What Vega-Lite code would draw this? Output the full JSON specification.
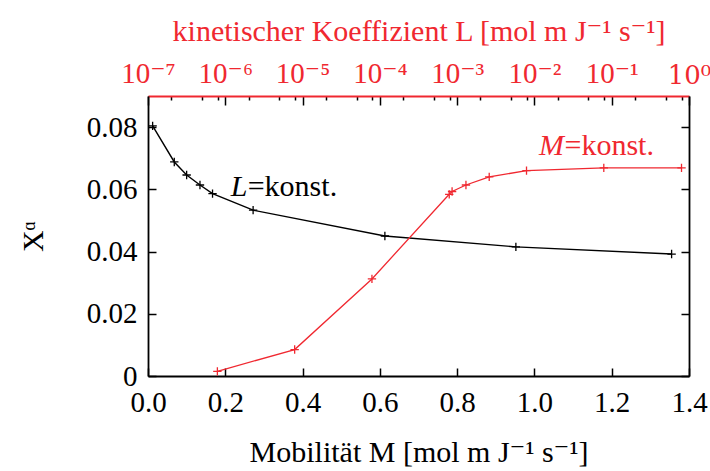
{
  "$schema": "https://vega.github.io/schema/vega-lite/v6.json",
  "width": 541,
  "height": 280,
  "autosize": {"type": "none"},
  "padding": {"left": 148, "top": 96, "right": 21, "bottom": 95},
  "background": "white",
  "config": {
    "view": {"stroke": null},
    "font": "'Liberation Serif', 'DejaVu Serif', serif",
    "axis": {
      "labelFont": "'Liberation Serif', 'DejaVu Serif', serif",
      "titleFont": "'Liberation Serif', 'DejaVu Serif', serif",
      "labelFontSize": 29,
      "titleFontSize": 30,
      "titleFontWeight": "normal",
      "labelColor": "black",
      "titleColor": "black",
      "domainColor": "black",
      "domainWidth": 1.8,
      "tickColor": "black",
      "tickWidth": 1.5,
      "grid": false
    }
  },
  "datasets": {
    "mobil": [
      {"M": 0.012, "X": 0.0804},
      {"M": 0.068, "X": 0.0688},
      {"M": 0.100, "X": 0.0646},
      {"M": 0.1345, "X": 0.0614},
      {"M": 0.167, "X": 0.0586},
      {"M": 0.272, "X": 0.0533},
      {"M": 0.613, "X": 0.0450},
      {"M": 0.952, "X": 0.0415},
      {"M": 1.355, "X": 0.0392}
    ],
    "kinet": [
      {"L": 7.9e-7, "X": 0.0015},
      {"L": 7.9e-6, "X": 0.0085},
      {"L": 7.9e-5, "X": 0.0312},
      {"L": 7.9e-4, "X": 0.0584},
      {"L": 8.6e-4, "X": 0.0593},
      {"L": 1.3e-3, "X": 0.0614},
      {"L": 2.6e-3, "X": 0.0640},
      {"L": 7.9e-3, "X": 0.0660},
      {"L": 7.9e-2, "X": 0.0669},
      {"L": 0.8, "X": 0.0669}
    ]
  },
  "layer": [
    {
      "data": {"name": "mobil"},
      "encoding": {
        "x": {
          "field": "M",
          "type": "quantitative",
          "scale": {"domain": [0, 1.4], "nice": false, "zero": false},
          "axis": {
            "orient": "bottom",
            "title": "Mobilität M [mol m J⁻¹ s⁻¹]",
            "values": [0, 0.2, 0.4, 0.6, 0.8, 1.0, 1.2, 1.4],
            "format": ".1f",
            "tickSize": -8,
            "labelPadding": 20,
            "titlePadding": 20,
            "labelFlush": false,
            "labelOverlap": false
          }
        },
        "y": {
          "field": "X",
          "type": "quantitative",
          "scale": {"domain": [0, 0.09], "nice": false, "zero": false},
          "axis": {
            "orient": "left",
            "title": "Xᵅ",
            "values": [0, 0.02, 0.04, 0.06, 0.08],
            "labelExpr": "datum.value == 0 ? '0' : format(datum.value, '.2f')",
            "tickSize": -8,
            "labelPadding": 19,
            "titlePadding": 38,
            "titleAngle": -90,
            "labelFlush": false,
            "labelOverlap": false
          }
        }
      },
      "layer": [
        {"mark": {"type": "line", "color": "black", "strokeWidth": 1.4}},
        {
          "mark": {
            "type": "point",
            "shape": "M-1,0H1M0,-1V1",
            "size": 70,
            "filled": false,
            "color": "black",
            "strokeWidth": 1.3,
            "opacity": 1
          }
        },
        {
          "data": {"values": [{"M": 0.214, "X": 0.0577, "t": "L"}]},
          "mark": {"type": "text", "align": "left", "baseline": "alphabetic", "fontSize": 30, "fontStyle": "italic", "font": "'Liberation Serif', 'DejaVu Serif', serif", "color": "black"},
          "encoding": {"text": {"field": "t"}}
        },
        {
          "data": {"values": [{"M": 0.258, "X": 0.0577, "t": "=konst."}]},
          "mark": {"type": "text", "align": "left", "baseline": "alphabetic", "fontSize": 30, "font": "'Liberation Serif', 'DejaVu Serif', serif", "color": "black"},
          "encoding": {"text": {"field": "t"}}
        }
      ]
    },
    {
      "data": {"name": "kinet"},
      "encoding": {
        "x": {
          "field": "L",
          "type": "quantitative",
          "scale": {"type": "log", "domain": [1e-7, 1], "nice": false},
          "axis": {
            "orient": "top",
            "title": "kinetischer Koeffizient L [mol m J⁻¹ s⁻¹]",
            "titleColor": "#f02830",
            "labelColor": "#f02830",
            "domainColor": "#f02830",
            "values": [1e-7, 2e-7, 5e-7, 8e-7, 1e-6, 2e-6, 5e-6, 8e-6, 1e-5, 2e-5, 5e-5, 8e-5, 1e-4, 2e-4, 5e-4, 8e-4, 1e-3, 2e-3, 5e-3, 8e-3, 1e-2, 2e-2, 5e-2, 8e-2, 1e-1, 2e-1, 5e-1, 8e-1, 1],
            "labelExpr": "abs(log(datum.value)/LN10 - round(log(datum.value)/LN10)) < 1e-6 ? '10' + ['⁰','⁻¹','⁻²','⁻³','⁻⁴','⁻⁵','⁻⁶','⁻⁷'][round(-log(datum.value)/LN10)] : ''",
            "labelFont": {"condition": {"test": "datum.value == 1", "value": "'DejaVu Serif', serif"}, "value": "'Liberation Serif', 'DejaVu Serif', serif"},
            "labelFontSize": {"condition": {"test": "datum.value == 1", "value": 26}, "value": 29},
            "tickSize": {"condition": {"test": "abs(log(datum.value)/LN10 - round(log(datum.value)/LN10)) < 1e-6", "value": -9}, "value": -4},
            "labelPadding": 17,
            "titlePadding": 8,
            "labelFlush": false,
            "labelOverlap": false
          }
        },
        "y": {
          "field": "X",
          "type": "quantitative",
          "scale": {"domain": [0, 0.09], "nice": false, "zero": false},
          "axis": {
            "orient": "right",
            "title": null,
            "labels": false,
            "values": [0, 0.02, 0.04, 0.06, 0.08],
            "tickSize": -8
          }
        }
      },
      "layer": [
        {"mark": {"type": "line", "color": "#f02830", "strokeWidth": 1.3}},
        {
          "mark": {
            "type": "point",
            "shape": "M-1,0H1M0,-1V1",
            "size": 70,
            "filled": false,
            "color": "#f02830",
            "strokeWidth": 1.3,
            "opacity": 1
          }
        },
        {
          "data": {"values": [{"L": 0.01143, "X": 0.071, "t": "M"}]},
          "mark": {"type": "text", "align": "left", "baseline": "alphabetic", "fontSize": 30, "fontStyle": "italic", "font": "'Liberation Serif', 'DejaVu Serif', serif", "color": "#f02830"},
          "encoding": {"text": {"field": "t"}}
        },
        {
          "data": {"values": [{"L": 0.0245, "X": 0.071, "t": "=konst."}]},
          "mark": {"type": "text", "align": "left", "baseline": "alphabetic", "fontSize": 30, "font": "'Liberation Serif', 'DejaVu Serif', serif", "color": "#f02830"},
          "encoding": {"text": {"field": "t"}}
        }
      ]
    }
  ],
  "resolve": {
    "scale": {"x": "independent", "y": "independent"},
    "axis": {"x": "independent", "y": "independent"}
  }
}
